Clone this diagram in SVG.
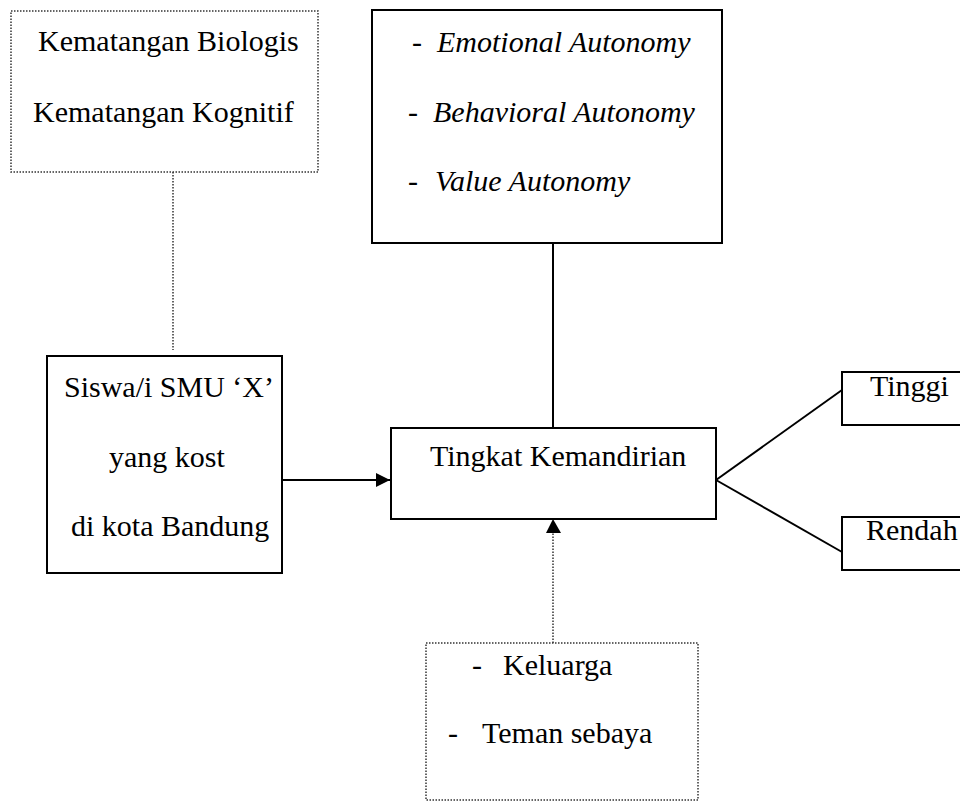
<svg xmlns="http://www.w3.org/2000/svg" width="960" height="802" viewBox="0 0 960 802">
<style>
.solid{fill:#fff;stroke:#000;stroke-width:2}
.dot{fill:#fff;stroke:#333;stroke-width:1.5;stroke-dasharray:1.5 1.5}
.t{font-family:"Liberation Serif","Times New Roman",serif;font-size:30px;fill:#000}
.i{font-style:italic}
.ln{stroke:#000;stroke-width:2;fill:none}
.dl{stroke:#333;stroke-width:1.5;stroke-dasharray:1.5 1.5;fill:none}
</style>
<defs>
<marker id="ah" markerWidth="14" markerHeight="14" refX="14" refY="7" orient="auto" markerUnits="userSpaceOnUse">
<path d="M0,0 L14,7 L0,14 Z" fill="#000"/>
</marker>
</defs>
<rect width="960" height="802" fill="#fff"/>
<g id="connectors">
<line class="dl" x1="173" y1="172" x2="173" y2="350"/>
<line class="ln" x1="553" y1="244" x2="553" y2="428"/>
<line class="ln" x1="282" y1="480" x2="390" y2="480" marker-end="url(#ah)"/>
<line class="dl" x1="553" y1="643" x2="553" y2="532"/>
<path d="M546,533 L553,519 L561,533 Z" fill="#000"/>
<line class="ln" x1="716" y1="480" x2="842" y2="390"/>
<line class="ln" x1="716" y1="480" x2="842" y2="552"/>
</g>
<g id="kematangan">
<rect class="dot" x="11" y="11" width="307" height="161"/>
<text class="t" x="38" y="51">Kematangan Biologis</text>
<text class="t" x="33" y="122">Kematangan Kognitif</text>
</g>
<g id="autonomy">
<rect class="solid" x="372" y="10" width="350" height="233"/>
<text class="t" x="412" y="52">-<tspan class="i" x="437">Emotional Autonomy</tspan></text>
<text class="t" x="408" y="122">-<tspan class="i" x="433">Behavioral Autonomy</tspan></text>
<text class="t" x="408" y="191">-<tspan class="i" x="435">Value Autonomy</tspan></text>
</g>
<g id="siswa">
<rect class="solid" x="47" y="356" width="235" height="217"/>
<text class="t" x="64" y="397">Siswa/i SMU ‘X’</text>
<text class="t" x="109" y="467">yang kost</text>
<text class="t" x="71" y="536">di kota Bandung</text>
</g>
<g id="tingkat">
<rect class="solid" x="391" y="428" width="325" height="91"/>
<text class="t" x="430" y="466">Tingkat Kemandirian</text>
</g>
<g id="tinggi">
<rect class="solid" x="842" y="372" width="130" height="53"/>
<text class="t" x="870" y="396">Tinggi</text>
</g>
<g id="rendah">
<rect class="solid" x="842" y="517" width="130" height="53"/>
<text class="t" x="866" y="540">Rendah</text>
</g>
<g id="faktor">
<rect class="dot" x="426" y="643" width="272" height="157"/>
<text class="t" x="472" y="675">-<tspan x="503">Keluarga</tspan></text>
<text class="t" x="448" y="743">-<tspan x="482">Teman sebaya</tspan></text>
</g>
</svg>
